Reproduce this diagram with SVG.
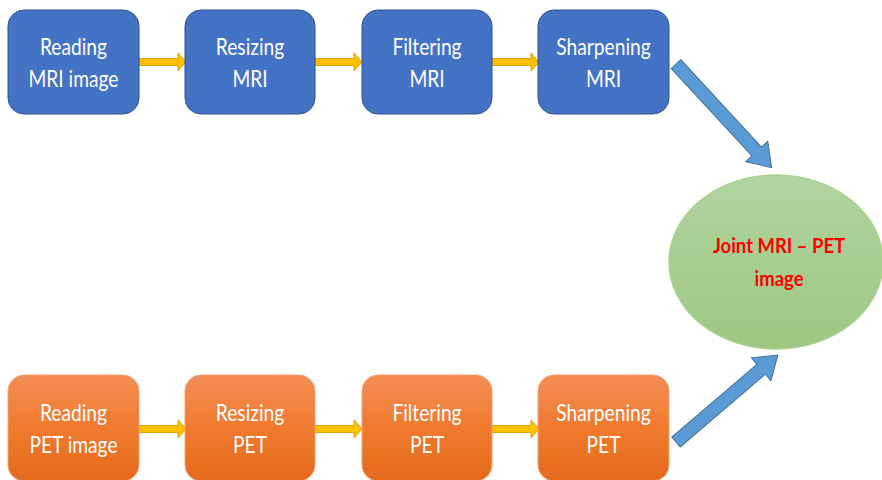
<svg xmlns="http://www.w3.org/2000/svg" width="882" height="480" viewBox="0 0 882 480">
<defs>
<linearGradient id="gOrange" x1="0" y1="0" x2="0" y2="1"><stop offset="0" stop-color="#F38D55"/><stop offset="0.5" stop-color="#F07A2E"/><stop offset="1" stop-color="#E46A1C"/></linearGradient>
<linearGradient id="gGreen" x1="0" y1="0" x2="0" y2="1"><stop offset="0" stop-color="#B2D4A0"/><stop offset="1" stop-color="#9DC783"/></linearGradient>
<polygon id="yArrow" points="0,-3.5 39,-3.5 39,-9 47,0 39,9 39,3.5 0,3.5"/>
</defs>
<style>
.blue{fill:#4472C4;stroke:#2F528F;stroke-width:1}
.orange{fill:url(#gOrange);stroke:#F2A273;stroke-width:1}
.t{font-family:Lato,"Liberation Sans",sans-serif;font-size:24px;fill:#FFFFFF;text-anchor:middle}
.ya{fill:#FFC000;stroke:#D9A400;stroke-width:1}
.ba{fill:#5B9BD5;stroke:#41719C;stroke-width:1}
.jt{font-family:Lato,"Liberation Sans",sans-serif;font-size:21px;font-weight:bold;fill:#FF0000;text-anchor:middle}
</style>
<g id="connectors">
<use href="#yArrow" class="ya" transform="translate(139,62)"/>
<use href="#yArrow" class="ya" transform="translate(315,62)"/>
<use href="#yArrow" class="ya" transform="translate(492,62)"/>
<use href="#yArrow" class="ya" transform="translate(139,429)"/>
<use href="#yArrow" class="ya" transform="translate(315,429)"/>
<use href="#yArrow" class="ya" transform="translate(492,429)"/>
<polygon class="ba" transform="translate(676,64) rotate(47.3)" points="0,-6.5 119,-6.5 119,-15 141,0 119,15 119,6.5 0,6.5"/>
<polygon class="ba" transform="translate(676,442) rotate(-40.5)" points="0,-6.5 112,-6.5 112,-15 134,0 112,15 112,6.5 0,6.5"/>
</g>
<g id="mri1"><rect class="blue" x="8" y="10" width="131" height="104" rx="16"/><text class="t" transform="translate(73.5,55) scale(0.8,1)">Reading</text><text class="t" transform="translate(73.5,87) scale(0.8,1)">MRI image</text></g>
<g id="mri2"><rect class="blue" x="185" y="10" width="130" height="104" rx="16"/><text class="t" transform="translate(250,55) scale(0.8,1)">Resizing</text><text class="t" transform="translate(250,87) scale(0.8,1)">MRI</text></g>
<g id="mri3"><rect class="blue" x="362" y="10" width="130" height="104" rx="16"/><text class="t" transform="translate(427,55) scale(0.8,1)">Filtering</text><text class="t" transform="translate(427,87) scale(0.8,1)">MRI</text></g>
<g id="mri4"><rect class="blue" x="538" y="10" width="131" height="104" rx="16"/><text class="t" transform="translate(603.5,55) scale(0.8,1)">Sharpening</text><text class="t" transform="translate(603.5,87) scale(0.8,1)">MRI</text></g>
<g id="pet1"><rect class="orange" x="8" y="375" width="131" height="106" rx="16"/><text class="t" transform="translate(73.5,421) scale(0.8,1)">Reading</text><text class="t" transform="translate(73.5,453) scale(0.8,1)">PET image</text></g>
<g id="pet2"><rect class="orange" x="185" y="375" width="130" height="106" rx="16"/><text class="t" transform="translate(250,421) scale(0.8,1)">Resizing</text><text class="t" transform="translate(250,453) scale(0.8,1)">PET</text></g>
<g id="pet3"><rect class="orange" x="362" y="375" width="130" height="106" rx="16"/><text class="t" transform="translate(427,421) scale(0.8,1)">Filtering</text><text class="t" transform="translate(427,453) scale(0.8,1)">PET</text></g>
<g id="pet4"><rect class="orange" x="538" y="375" width="131" height="106" rx="16"/><text class="t" transform="translate(603.5,421) scale(0.8,1)">Sharpening</text><text class="t" transform="translate(603.5,453) scale(0.8,1)">PET</text></g>
<g id="joint"><ellipse cx="776" cy="262" rx="107" ry="87" fill="url(#gGreen)" stroke="#A9D18E" stroke-width="1.5"/><text class="jt" transform="translate(779,253) scale(0.88,1)">Joint MRI – PET</text><text class="jt" transform="translate(779,286) scale(0.88,1)">image</text></g>
</svg>
